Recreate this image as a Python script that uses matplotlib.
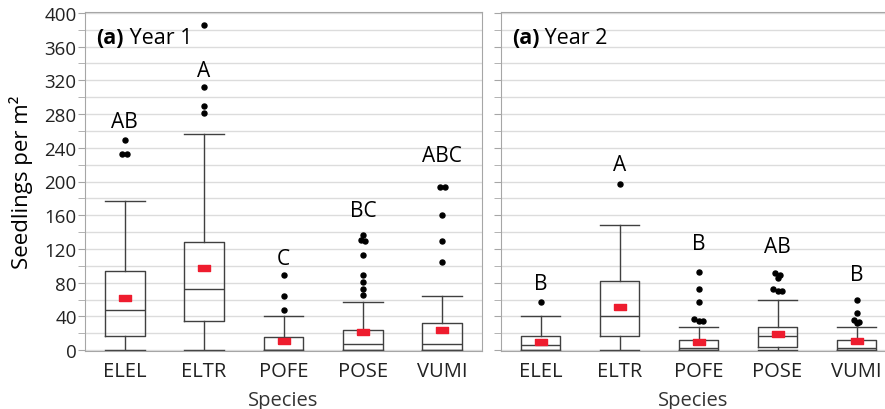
import numpy as np
import matplotlib
matplotlib.use('Agg')
from matplotlib import pyplot as plt
from matplotlib.ticker import MultipleLocator

plt.rcParams['font.family'] = ['Open Sans', 'DejaVu Sans']

species = ['ELEL', 'ELTR', 'POFE', 'POSE', 'VUMI']

# Year 1 box statistics (seedlings per m2)
y1_low = [0, 0, 0, 0, 0]
y1_q1 = [16.5, 34, 0, 0, 0]
y1_med = [48, 73, 0, 7, 7]
y1_q3 = [94, 128, 16, 24, 32]
y1_high = [177, 256, 40, 57, 64]
y1_mean = [62, 97, 11, 22, 24]
y1_fliers = [[249, 233, 233], [386, 312, 289, 281], [89, 64, 48],
             [137, 131, 129, 113, 89, 81, 73, 65], [193, 193, 160, 129, 104]]
y1_letters = ['AB', 'A', 'C', 'BC', 'ABC']
y1_letter_y = [271, 332, 109, 166, 231]

# Year 2
y2_low = [0, 0, 0, 0, 0]
y2_q1 = [0, 16.5, 0, 4, 0]
y2_med = [6.5, 40, 3, 16.5, 3]
y2_q3 = [16.5, 82, 12, 27, 12]
y2_high = [40, 148, 28, 60, 28]
y2_mean = [10, 51.5, 9.5, 19, 10.5]
y2_fliers = [[57], [197], [93, 73, 57, 37, 35, 35],
             [92, 89, 86, 73, 70, 70], [60, 44, 36, 33, 32]]
y2_letters = ['B', 'A', 'B', 'AB', 'B']
y2_letter_y = [79, 220, 127, 123, 90]

box_color = '#404040'
spine_color = '#a6a6a6'
grid_color = '#dcdcdc'
mean_color = '#ee1c2e'
rect = [(-1, -0.5), (1, -0.5), (1, 0.5), (-1, 0.5), (-1, -0.5)]


def jitter(vals):
    # spread near-equal outliers sideways so they don't overlap
    vals = sorted(vals, reverse=True)
    offs = []
    i = 0
    while i < len(vals):
        j = i
        while j + 1 < len(vals) and vals[i] - vals[j + 1] < 4:
            j += 1
        n = j - i + 1
        offs += list((np.arange(n) - (n - 1) / 2) * 0.06)
        i = j + 1
    return vals, offs


def panel(ax, low, q1, med, q3, high, mean, fliers, letters, letter_y, title, labels):
    stats = []
    for k in range(len(species)):
        stats.append(dict(whislo=low[k], q1=q1[k], med=med[k], q3=q3[k],
                          whishi=high[k], mean=mean[k], fliers=[]))
    lp = dict(color=box_color, linewidth=1)
    ax.bxp(stats, positions=range(len(species)), widths=0.5, capwidths=0.5,
           showfliers=False, showmeans=False,
           boxprops=lp, whiskerprops=lp, capprops=lp, medianprops=lp)
    for k in range(len(species)):
        v, o = jitter(fliers[k])
        ax.plot(k + np.array(o), v, 'o', color='black', markersize=3.6, zorder=4)
        ax.plot(k, mean[k], marker=rect, color=mean_color, markersize=8,
                linestyle='none', zorder=5)
        ax.text(k, letter_y[k], letters[k], ha='center', va='center', fontsize=15)
    ax.set_ylim(-1, 401)
    ax.yaxis.set_major_locator(MultipleLocator(40))
    ax.yaxis.set_minor_locator(MultipleLocator(20))
    ax.grid(True, which='both', axis='y', color=grid_color, linewidth=1)
    ax.set_axisbelow(True)
    for s in ax.spines.values():
        s.set_color(spine_color)
    ax.tick_params(axis='y', which='both', direction='out', length=5,
                   color=spine_color, labelsize=13.5, pad=1, labelleft=labels,
                   labelcolor='#222222')
    ax.tick_params(axis='x', length=0, labelsize=14.5, pad=7, labelcolor='#222222')
    ax.set_xticks(range(len(species)))
    ax.set_xticklabels(species)
    ax.set_xlabel('Species', fontsize=14.5, color='#333333', labelpad=7)
    t = ax.text(0.028, 0.925, '(a)', transform=ax.transAxes, fontsize=15.5,
                fontweight='bold', ha='left', va='center')
    ax.annotate(' ' + title, xy=(1, 0), xycoords=t, ha='left', va='bottom',
                fontsize=15.5)


fig = plt.figure(figsize=(8.85, 4.10), dpi=100)
ax1 = fig.add_axes([85 / 885, 1 - 352 / 410, 397 / 885, 339 / 410])
ax2 = fig.add_axes([501 / 885, 1 - 352 / 410, 384 / 885, 339 / 410])

panel(ax1, y1_low, y1_q1, y1_med, y1_q3, y1_high, y1_mean, y1_fliers,
      y1_letters, y1_letter_y, 'Year 1', True)
ax1.set_xlim(-0.5, 4.5)
ax1.set_ylabel('Seedlings per m²', fontsize=16)
ax1.yaxis.set_label_coords(-0.13, 0.5)

panel(ax2, y2_low, y2_q1, y2_med, y2_q3, y2_high, y2_mean, y2_fliers,
      y2_letters, y2_letter_y, 'Year 2', False)
ax2.set_xlim(-0.5, 4.36)
ax2.spines['right'].set_visible(False)

fig.savefig('out.png', dpi=100)
